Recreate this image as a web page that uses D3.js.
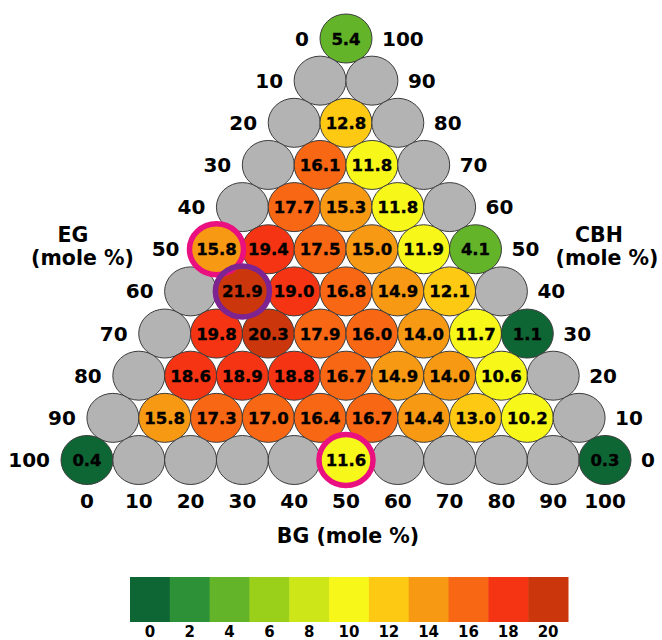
<!DOCTYPE html>
<html>
<head>
<meta charset="utf-8">
<script src="https://cdn.jsdelivr.net/npm/d3@7"></script>
<style>
  html, body { margin: 0; padding: 0; background: #ffffff; }
  svg { display: block; }
  text { font-family: "DejaVu Sans", Verdana, sans-serif; font-weight: bold; fill: #000; }
</style>
</head>
<body>
<svg id="chart" width="662" height="640"></svg>
<script>
// Rows of the ternary grid, top (CBH = 100) to bottom (CBH = 0).
// Position j in a row is BG = 10*j; EG = 100 - CBH - BG. null = not measured.
const rowValues = [
  [5.4],
  [null, null],
  [null, 12.8, null],
  [null, 16.1, 11.8, null],
  [null, 17.7, 15.3, 11.8, null],
  [15.8, 19.4, 17.5, 15.0, 11.9, 4.1],
  [null, 21.9, 19.0, 16.8, 14.9, 12.1, null],
  [null, 19.8, 20.3, 17.9, 16.0, 14.0, 11.7, 1.1],
  [null, 18.6, 18.9, 18.8, 16.7, 14.9, 14.0, 10.6, null],
  [null, 15.8, 17.3, 17.0, 16.4, 16.7, 14.4, 13.0, 10.2, null],
  [0.4, null, null, null, null, 11.6, null, null, null, null, 0.3]
];

// Highlighted compositions: [row, position, ring colour]
const highlights = [
  [5, 0, "#ea1080"],
  [6, 1, "#7d2490"],
  [10, 5, "#ea1080"]
];

const egTicks  = [0, 10, 20, 30, 40, 50, 60, 70, 80, 90, 100];
const cbhTicks = [100, 90, 80, 70, 60, 50, 40, 30, 20, 10, 0];
const bgTicks  = [0, 10, 20, 30, 40, 50, 60, 70, 80, 90, 100];

const legendTicks  = [0, 2, 4, 6, 8, 10, 12, 14, 16, 18, 20];
const legendColors = ["#0f6635", "#2d9237", "#64b42a", "#9ad01a", "#cde617",
                      "#f7f71a", "#fdc912", "#f79912", "#f76714", "#f53413", "#cb360c"];

const svg = d3.select("#chart");

// Ternary layout: x follows BG + CBH/2, y follows CBH
const x = d3.scaleLinear().domain([0, 100]).range([87, 605]);
const y = d3.scaleLinear().domain([100, 0]).range([38.5, 460]);
const color = d3.scaleThreshold().domain(legendTicks.slice(1)).range(legendColors);

const rx = 26, ry = 24.5;

const cells = [];
rowValues.forEach((row, r) => {
  const cbh = 100 - 10 * r;
  row.forEach((v, j) => {
    const bg = 10 * j;
    cells.push({ r, j, cbh, bg, eg: 100 - cbh - bg, v });
  });
});
const cx = d => x(d.bg + d.cbh / 2);
const cy = d => y(d.cbh);

const g = svg.append("g");

g.selectAll("ellipse.cell")
  .data(cells)
  .join("ellipse")
  .attr("class", "cell")
  .attr("cx", cx)
  .attr("cy", cy)
  .attr("rx", rx)
  .attr("ry", ry)
  .attr("fill", d => d.v == null ? "#b3b3b3" : color(d.v))
  .attr("stroke", "#3c3c3c")
  .attr("stroke-width", 1);

// Rings around the highlighted compositions
const ringCells = highlights.map(([r, j, c]) => ({ cell: cells.find(d => d.r === r && d.j === j), c }));
g.selectAll("ellipse.ring")
  .data(ringCells)
  .join("ellipse")
  .attr("class", "ring")
  .attr("cx", d => cx(d.cell))
  .attr("cy", d => cy(d.cell))
  .attr("rx", rx + 1)
  .attr("ry", ry + 1)
  .attr("fill", "none")
  .attr("stroke", d => d.c)
  .attr("stroke-width", 5.5);

g.selectAll("text.val")
  .data(cells.filter(d => d.v != null))
  .join("text")
  .attr("class", "val")
  .attr("x", cx)
  .attr("y", d => cy(d) + 6)
  .attr("text-anchor", "middle")
  .style("font-size", "16.5px")
  .style("stroke", "#000")
  .style("stroke-width", "0.35px")
  .text(d => d.v.toFixed(1));

// EG ticks on the left edge (BG = 0)
g.selectAll("text.eg")
  .data(egTicks)
  .join("text")
  .attr("class", "eg")
  .attr("x", t => x((100 - t) / 2) - 37)
  .attr("y", t => y(100 - t) + 7)
  .attr("text-anchor", "end")
  .style("font-size", "20px")
  .text(t => t);

// CBH ticks on the right edge (EG = 0)
g.selectAll("text.cbh")
  .data(cbhTicks)
  .join("text")
  .attr("class", "cbh")
  .attr("x", t => x(100 - t / 2) + 36)
  .attr("y", t => y(t) + 7)
  .attr("text-anchor", "start")
  .style("font-size", "20px")
  .text(t => t);

// BG ticks under the bottom row
g.selectAll("text.bg")
  .data(bgTicks)
  .join("text")
  .attr("class", "bg")
  .attr("x", t => x(t))
  .attr("y", 507.5)
  .attr("text-anchor", "middle")
  .style("font-size", "20px")
  .text(t => t);

// Axis titles
const titles = [
  { t: "EG", x: 73, y: 242 },
  { t: "(mole %)", x: 82.5, y: 265 },
  { t: "CBH", x: 599, y: 242 },
  { t: "(mole %)", x: 607, y: 265 },
  { t: "BG (mole %)", x: 348, y: 543 }
];
g.selectAll("text.title")
  .data(titles)
  .join("text")
  .attr("class", "title")
  .attr("x", d => d.x)
  .attr("y", d => d.y)
  .attr("text-anchor", "middle")
  .style("font-size", "20.5px")
  .text(d => d.t);

// Colour key
const band = d3.scaleBand().domain(legendTicks).range([130, 568]).padding(0);
const key = svg.append("g");
key.selectAll("rect")
  .data(legendTicks)
  .join("rect")
  .attr("x", t => band(t))
  .attr("y", 577)
  .attr("width", band.bandwidth() + 0.5)
  .attr("height", 45)
  .attr("fill", t => color(t));
key.selectAll("text")
  .data(legendTicks)
  .join("text")
  .attr("x", t => band(t) + band.bandwidth() / 2)
  .attr("y", 636.5)
  .attr("text-anchor", "middle")
  .style("font-size", "15px")
  .text(t => t);
</script>
</body>
</html>
